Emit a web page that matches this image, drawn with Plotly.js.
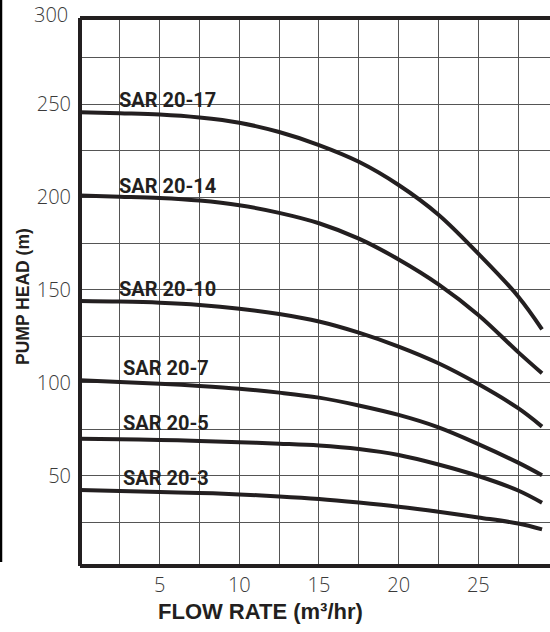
<!DOCTYPE html>
<html>
<head>
<meta charset="utf-8">
<script src="https://cdn.plot.ly/plotly-3.0.1.min.js"></script>
<style>html,body{margin:0;padding:0;background:#fff;}#chart{width:550px;height:632px;}</style>
</head>
<body>
<div id="chart"></div>
<script>
// ---- data ----
const flow = [0, 2.5, 5, 7.5, 10, 12.5, 15, 17.5, 20, 22.5, 25, 27.5, 29];
const sar20_17 = [245.7, 245.1, 244.4, 242.8, 240.0, 235.0, 228.0, 219.0, 206.5, 190.5, 169.5, 146.5, 128.8];
const sar20_14 = [200.8, 200.2, 199.5, 198.1, 195.6, 191.5, 185.9, 177.6, 166.4, 153.0, 136.5, 116.5, 105.1];
const sar20_10 = [144.0, 143.7, 143.1, 141.9, 139.9, 137.0, 133.0, 127.0, 119.5, 110.5, 99.3, 86.3, 76.4];
const sar20_7  = [101.3, 100.4, 99.5, 98.3, 96.8, 94.7, 92.0, 87.8, 82.7, 76.0, 67.0, 57.0, 50.2];
const sar20_5  = [69.9, 69.6, 69.2, 68.7, 68.0, 67.2, 66.2, 64.3, 61.1, 56.0, 49.8, 42.0, 35.4];
const sar20_3  = [42.3, 41.7, 41.2, 40.7, 39.9, 38.8, 37.4, 35.5, 33.3, 30.6, 27.5, 24.2, 21.1];
const seriesNames = ['SAR 20-17', 'SAR 20-14', 'SAR 20-10', 'SAR 20-7', 'SAR 20-5', 'SAR 20-3'];
const xTicks = [5, 10, 15, 20, 25];
const yTicks = [50, 100, 150, 200, 250, 300];
const xTitle = 'FLOW RATE (m³/hr)';
const yTitle = 'PUMP HEAD (m)';

// ---- layout ----
const seriesValues = [sar20_17, sar20_14, sar20_10, sar20_7, sar20_5, sar20_3];
const ink = '#231f20';
const Y_RANGE = [1.35, 296.4];
const X_RANGE = [0, 29.5];
const tickFont = {family: '"Open Sans", Roboto, sans-serif', size: 20, weight: 300, color: '#3a3a3a'};

const traces = seriesValues.map((ys, i) => ({
  x: flow, y: ys, type: 'scatter', mode: 'lines', name: seriesNames[i],
  line: {color: ink, width: 4, shape: 'spline', smoothing: 1.0},
  hoverinfo: 'skip'
}));

// label anchor positions (data coords, caps centre)
const labelPos = [[2.3, 252.5], [2.3, 205.9], [2.3, 150.6], [2.55, 108.2], [2.55, 78.1], [2.55, 49.0]];
const annotations = seriesNames.map((t, i) => ({
  text: t, x: labelPos[i][0], y: labelPos[i][1], xref: 'x', yref: 'y',
  xanchor: 'left', yanchor: 'middle', showarrow: false,
  font: {family: 'Roboto, Arial, sans-serif', size: 20, weight: 700, color: ink}
}));

// tick label above the range top (300)
const yTop = yTicks[yTicks.length - 1];
annotations.push({
  text: String(yTop), xref: 'paper', yref: 'paper', x: -10 / 470,
  y: (yTop - Y_RANGE[0]) / (Y_RANGE[1] - Y_RANGE[0]), yshift: -3,
  xanchor: 'right', yanchor: 'middle', showarrow: false,
  font: tickFont
});
annotations.push({
  text: xTitle, xref: 'paper', yref: 'paper', x: (260 - 80) / 470, y: (566 - 611) / 548,
  xanchor: 'center', yanchor: 'middle', showarrow: false,
  font: {family: 'Liberation Sans, Arial, sans-serif', size: 22, weight: 700, color: ink}
});
annotations.push({
  text: yTitle, xref: 'paper', yref: 'paper', x: (23 - 80) / 470, y: (566 - 297) / 548,
  xanchor: 'center', yanchor: 'middle', textangle: -90, showarrow: false,
  font: {family: 'Liberation Sans, Arial, sans-serif', size: 17.5, weight: 700, color: ink}
});

const frame = {color: ink, width: 4};
const shapes = [
  {type: 'line', xref: 'paper', yref: 'paper', x0: 0, x1: 1, y0: 1, y1: 1, line: frame, layer: 'above'},
  {type: 'line', xref: 'paper', yref: 'paper', x0: 0, x1: 1, y0: 0, y1: 0, line: frame, layer: 'above'},
  {type: 'line', xref: 'paper', yref: 'paper', x0: 0, x1: 0, y0: 0, y1: 1, line: frame, layer: 'above'},
  {type: 'line', xref: 'paper', yref: 'paper', x0: -79 / 470, x1: -79 / 470, y0: (566 - 562) / 548, y1: 566 / 548,
   line: {color: '#000', width: 2.5}, layer: 'above'}
];

const gridCol = '#555';
const layout = {
  width: 550, height: 632,
  margin: {l: 80, r: 0, t: 18, b: 66, pad: 0},
  paper_bgcolor: '#fff', plot_bgcolor: '#fff',
  showlegend: false,
  xaxis: {
    range: X_RANGE, tickmode: 'array', tickvals: xTicks, ticktext: xTicks.map(String),
    showgrid: true, gridcolor: gridCol, gridwidth: 1,
    minor: {tickmode: 'linear', tick0: 0, dtick: 2.5, showgrid: true, gridcolor: gridCol, gridwidth: 1},
    zeroline: false, showline: false, ticks: '', ticklabelstandoff: 5,
    tickfont: tickFont,
    fixedrange: true
  },
  yaxis: {
    range: Y_RANGE, tickmode: 'array', tickvals: yTicks.slice(0, -1), ticktext: yTicks.slice(0, -1).map(String),
    showgrid: true, gridcolor: gridCol, gridwidth: 1,
    minor: {tickmode: 'linear', tick0: 0, dtick: 25, showgrid: true, gridcolor: gridCol, gridwidth: 1},
    zeroline: false, showline: false, ticks: '', ticklabelstandoff: 8,
    tickfont: tickFont,
    fixedrange: true
  },
  annotations: annotations,
  shapes: shapes
};

Plotly.newPlot('chart', traces, layout, {displayModeBar: false, staticPlot: true});
</script>
</body>
</html>
